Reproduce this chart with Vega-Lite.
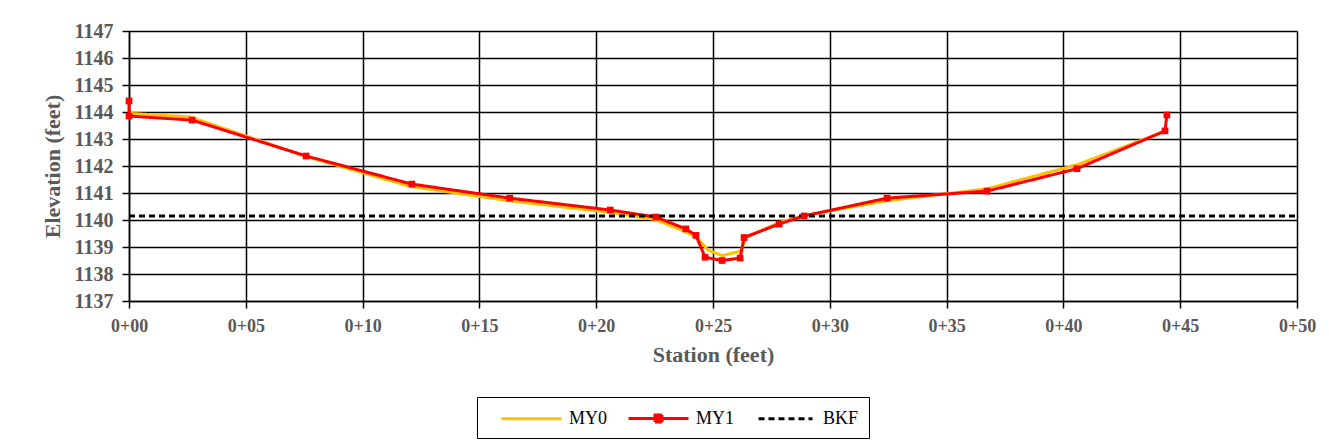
{
  "$schema": "https://vega.github.io/schema/vega-lite/v6.json",
  "width": 1168,
  "height": 270,
  "autosize": {"type": "none"},
  "padding": {"left": 129, "top": 31, "right": 32, "bottom": 145},
  "background": "white",
  "config": {
    "view": {"stroke": null},
    "font": "Liberation Serif",
    "axis": {
      "labelFont": "Liberation Serif",
      "labelFontWeight": "bold",
      "labelColor": "#595959",
      "titleFont": "Liberation Serif",
      "titleFontWeight": "bold",
      "titleColor": "#595959",
      "gridColor": "black",
      "gridWidth": 1.5,
      "gridOpacity": 1,
      "domainColor": "black",
      "domainWidth": 1.5,
      "tickColor": "black",
      "tickWidth": 1.5,
      "tickSize": 7,
      "labelFlush": false,
      "labelOverlap": false
    }
  },
  "data": {
    "values": [
      {"series": "MY0", "station": 0, "elev": 1143.95},
      {"series": "MY0", "station": 2.6, "elev": 1143.82},
      {"series": "MY0", "station": 7.6, "elev": 1142.35},
      {"series": "MY0", "station": 12.0, "elev": 1141.25},
      {"series": "MY0", "station": 16.2, "elev": 1140.72},
      {"series": "MY0", "station": 20.6, "elev": 1140.28},
      {"series": "MY0", "station": 22.5, "elev": 1140.02},
      {"series": "MY0", "station": 23.8, "elev": 1139.58},
      {"series": "MY0", "station": 24.3, "elev": 1139.35},
      {"series": "MY0", "station": 24.8, "elev": 1138.88},
      {"series": "MY0", "station": 25.4, "elev": 1138.68},
      {"series": "MY0", "station": 26.2, "elev": 1138.85},
      {"series": "MY0", "station": 26.4, "elev": 1139.35},
      {"series": "MY0", "station": 27.8, "elev": 1139.9},
      {"series": "MY0", "station": 28.9, "elev": 1140.17},
      {"series": "MY0", "station": 32.5, "elev": 1140.72},
      {"series": "MY0", "station": 36.7, "elev": 1141.15},
      {"series": "MY0", "station": 40.6, "elev": 1142.05},
      {"series": "MY0", "station": 44.45, "elev": 1143.32},
      {"series": "MY1", "station": 0, "elev": 1144.41},
      {"series": "MY1", "station": 0, "elev": 1143.85},
      {"series": "MY1", "station": 2.7, "elev": 1143.7},
      {"series": "MY1", "station": 7.58, "elev": 1142.37},
      {"series": "MY1", "station": 12.11, "elev": 1141.33},
      {"series": "MY1", "station": 16.3, "elev": 1140.81},
      {"series": "MY1", "station": 20.6, "elev": 1140.37},
      {"series": "MY1", "station": 22.55, "elev": 1140.11},
      {"series": "MY1", "station": 23.84, "elev": 1139.67},
      {"series": "MY1", "station": 24.27, "elev": 1139.43},
      {"series": "MY1", "station": 24.66, "elev": 1138.62},
      {"series": "MY1", "station": 25.39, "elev": 1138.5},
      {"series": "MY1", "station": 26.16, "elev": 1138.59},
      {"series": "MY1", "station": 26.33, "elev": 1139.35},
      {"series": "MY1", "station": 27.83, "elev": 1139.85},
      {"series": "MY1", "station": 28.9, "elev": 1140.15},
      {"series": "MY1", "station": 32.45, "elev": 1140.81},
      {"series": "MY1", "station": 36.73, "elev": 1141.07},
      {"series": "MY1", "station": 40.58, "elev": 1141.9},
      {"series": "MY1", "station": 44.35, "elev": 1143.3},
      {"series": "MY1", "station": 44.43, "elev": 1143.89},
      {"series": "BKF", "station": 0, "elev": 1140.15},
      {"series": "BKF", "station": 50, "elev": 1140.15}
    ]
  },
  "encoding": {
    "x": {
      "field": "station",
      "type": "quantitative",
      "scale": {"domain": [0, 50], "nice": false, "zero": false},
      "axis": {
        "values": [0, 5, 10, 15, 20, 25, 30, 35, 40, 45, 50],
        "labelExpr": "'0+' + (datum.value < 10 ? '0' : '') + datum.value",
        "labelFontSize": 18,
        "labelPadding": 9,
        "title": "Station (feet)",
        "titleFontSize": 22,
        "titlePadding": 9
      }
    },
    "y": {
      "field": "elev",
      "type": "quantitative",
      "scale": {"domain": [1137, 1147], "nice": false, "zero": false},
      "axis": {
        "values": [1137, 1138, 1139, 1140, 1141, 1142, 1143, 1144, 1145, 1146, 1147],
        "format": "d",
        "labelFontSize": 20,
        "labelPadding": 9,
        "title": "Elevation  (feet)",
        "titleFontSize": 22,
        "titlePadding": 10
      }
    }
  },
  "layer": [
    {
      "mark": {"type": "line", "strokeWidth": 3, "interpolate": "linear"},
      "encoding": {
        "color": {
          "field": "series",
          "type": "nominal",
          "scale": {"domain": ["MY0", "MY1", "BKF"], "range": ["#FFC000", "#FF0000", "black"]},
          "legend": {
            "title": null,
            "orient": "none",
            "legendX": 348,
            "legendY": 366,
            "direction": "horizontal",
            "symbolType": "M-3,0H3",
            "symbolSize": 400,
            "symbolStrokeWidth": 3,
            "symbolOffset": 33,
            "labelFont": "Liberation Serif",
            "labelFontSize": 18,
            "labelColor": "black",
            "labelOffset": 26,
            "columnPadding": 6,
            "padding": 10,
            "strokeColor": "black",
            "fillColor": "white",
            "encode": {
              "symbols": {
                "update": {
                  "shape": {"signal": "datum.value === 'MY1' ? 'M-3,0H3M-0.35,-0.35H0.35V0.35H-0.35Z' : datum.value === 'BKF' ? 'M-2.7,0H2.7' : 'M-3,0H3'"},
                  "fill": {"signal": "datum.value === 'MY1' ? '#FF0000' : 'transparent'"},
                  "strokeWidth": {"signal": "datum.value === 'BKF' ? 1.2 : 3"},
                  "strokeDash": {"signal": "datum.value === 'BKF' ? [6, 4] : [1, 0]"}
                }
              }
            }
          }
        },
        "strokeWidth": {
          "field": "series",
          "type": "nominal",
          "scale": {"domain": ["MY0", "MY1", "BKF"], "range": [3, 3, 1.2]},
          "legend": null
        },
        "strokeDash": {
          "field": "series",
          "type": "nominal",
          "scale": {"domain": ["MY0", "MY1", "BKF"], "range": [[1, 0], [1, 0], [6, 4]]},
          "legend": null
        },
        "order": {"value": null}
      }
    },
    {
      "transform": [{"filter": "datum.series === 'MY1'"}],
      "mark": {"type": "square", "filled": true, "size": 45, "color": "#FF0000", "opacity": 1}
    }
  ]
}
